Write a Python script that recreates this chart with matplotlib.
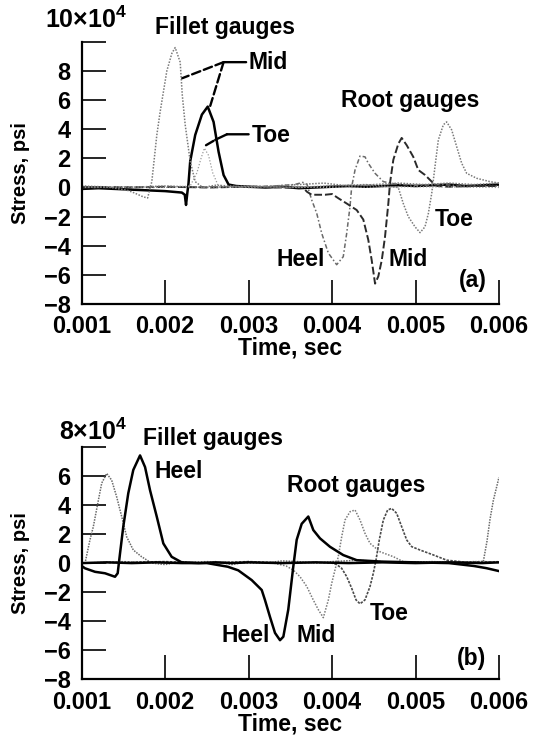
import numpy as np
import matplotlib
matplotlib.use('Agg')
import matplotlib.pyplot as plt

plt.rcParams['font.family'] = ['Liberation Sans', 'DejaVu Sans']
plt.rcParams['font.weight'] = 'bold'
plt.rcParams['mathtext.fontset'] = 'custom'
plt.rcParams['mathtext.rm'] = 'Liberation Sans:bold'
plt.rcParams['mathtext.it'] = 'Liberation Sans:bold'
plt.rcParams['mathtext.bf'] = 'Liberation Sans:bold'

# times in ms, stress in 10^4 psi

# ---- panel (a) ----
a_fmid_t = [1.00, 1.15, 1.30, 1.45, 1.55, 1.62, 1.68, 1.74, 1.79, 1.84, 1.90, 1.94, 2.02, 2.08, 2.12,
            2.18, 2.205, 2.24, 2.30, 2.36, 2.45, 2.60, 2.80, 3.00, 3.30, 3.60, 3.90, 4.20, 4.50, 4.80,
            5.10, 5.40, 5.70, 6.00]
a_fmid_v = [0.1, 0.0, 0.05, -0.1, -0.2, -0.35, -0.5, -0.65, -0.72, 0.4, 3.6, 5.2, 8.0, 9.2, 9.6,
            8.6, 6.35, 4.3, 1.8, 0.4, 0.0, 0.15, 0.1, 0.0, 0.1, 0.2, 0.3, 0.1, 0.2, 0.3,
            0.2, 0.3, 0.2, 0.3]

a_ftoe_t = [1.00, 1.50, 2.00, 2.30, 2.38, 2.43, 2.47, 2.52, 2.57, 2.63, 2.75, 3.00, 4.00, 5.00, 6.00]
a_ftoe_v = [0.0, 0.05, 0.0, 0.1, 1.0, 2.0, 2.7, 2.2, 1.0, 0.2, 0.0, 0.05, 0.0, 0.05, 0.0]

a_fdark_t = [1.00, 1.20, 1.40, 1.60, 1.80, 2.00, 2.10, 2.20, 2.235, 2.25, 2.265, 2.28, 2.30, 2.36,
             2.44, 2.51, 2.58, 2.64, 2.70, 2.76, 2.85, 3.00, 3.20, 3.40, 3.60, 3.80, 4.00, 4.20,
             4.40, 4.60, 4.80, 5.00, 5.20, 5.40, 5.60, 5.80, 6.00]
a_fdark_v = [-0.1, -0.05, -0.1, -0.15, -0.2, -0.25, -0.3, -0.35, -0.5, -1.2, -0.4, 0.3, 1.8, 3.6,
             5.0, 5.55, 4.5, 2.45, 0.85, 0.2, 0.1, 0.05, 0.0, 0.05, -0.05, 0.0, 0.05, 0.1,
             0.05, 0.1, 0.15, 0.1, 0.15, 0.2, 0.1, 0.15, 0.2]

a_rheel_t = [1.00, 1.40, 1.80, 2.20, 2.60, 3.00, 3.30, 3.55, 3.65, 3.70, 3.756, 3.816, 3.876, 3.955,
             4.055, 4.134, 4.175, 4.215, 4.235, 4.275, 4.335, 4.395, 4.434, 4.515, 4.614, 4.75,
             5.00, 5.30, 5.60, 6.00]
a_rheel_v = [0.0, 0.05, 0.0, 0.05, 0.0, 0.05, 0.1, 0.2, 0.35, 0.2, -0.86, -1.77, -3.15, -4.5,
             -5.3, -4.75, -3.15, -1.3, 0.05, 1.2, 2.16, 2.1, 1.66, 0.97, 0.4, 0.25,
             0.15, 0.2, 0.1, 0.1]

a_rmid_t = [1.00, 1.50, 2.00, 2.50, 3.00, 3.40, 3.65, 3.70, 3.756, 3.915, 4.00, 4.075, 4.175, 4.295,
            4.374, 4.434, 4.475, 4.515, 4.554, 4.595, 4.634, 4.674, 4.694, 4.734, 4.794, 4.834,
            4.894, 4.973, 5.033, 5.113, 5.194, 5.254, 5.40, 5.70, 6.00]
a_rmid_v = [0.0, 0.0, 0.05, 0.0, 0.05, 0.0, 0.0, -0.3, -0.5, -0.5, -0.45, -0.74, -1.1, -1.55,
            -2.2, -3.6, -5.0, -6.6, -6.1, -5.0, -3.4, -1.1, 0.3, 1.9, 3.0, 3.4,
            2.9, 2.1, 1.2, 0.86, 0.4, 0.1, 0.05, 0.1, 0.1]

a_rtoe_t = [1.00, 1.50, 2.00, 2.50, 3.00, 3.50, 4.00, 4.40, 4.60, 4.793, 4.853, 4.913, 4.994, 5.054,
            5.113, 5.153, 5.194, 5.233, 5.273, 5.333, 5.373, 5.433, 5.493, 5.553, 5.613, 5.733,
            5.892, 6.00]
a_rtoe_v = [0.1, 0.0, 0.1, 0.0, 0.1, 0.0, 0.1, 0.2, 0.1, 0.0, -1.1, -2.0, -2.7, -3.1,
            -2.7, -1.8, -0.4, 1.43, 3.26, 4.3, 4.5, 3.95, 2.8, 1.66, 0.97, 0.63,
            0.4, 0.3]

# ---- panel (b) ----
b_fgray_t = [1.00, 1.04, 1.099, 1.139, 1.199, 1.24, 1.30, 1.359, 1.419, 1.479, 1.539, 1.618, 1.719,
             1.839, 2.00, 2.20, 2.40, 2.60, 2.80, 3.00, 3.20, 3.40, 3.60, 3.80, 4.00, 4.30, 4.60,
             4.90, 5.20, 5.50, 5.70, 5.812, 5.856, 5.892, 5.932, 6.00]
b_fgray_v = [0.0, 0.0, 1.6, 2.5, 4.3, 5.5, 6.16, 5.7, 4.55, 3.2, 1.8, 0.9, 0.43,
             0.0, -0.1, 0.1, 0.0, 0.1, -0.1, 0.1, 0.0, 0.15, 0.1, 0.0, 0.1, 0.2, 0.1,
             0.05, 0.1, 0.05, 0.1, 0.1, 1.5, 3.0, 4.3, 5.9]

b_fheel_t = [1.00, 1.04, 1.16, 1.279, 1.399, 1.431, 1.459, 1.498, 1.558, 1.618, 1.699, 1.759, 1.819,
             1.899, 1.978, 2.078, 2.198, 2.40, 2.60, 2.80, 3.00, 3.40, 3.80, 4.20, 4.60, 5.00,
             5.40, 5.80, 6.00]
b_fheel_v = [-0.2, -0.36, -0.6, -0.7, -0.94, -0.7, 0.66, 2.5, 4.8, 6.4, 7.4, 6.6, 5.0,
             3.2, 1.35, 0.43, 0.05, 0.0, 0.05, 0.0, 0.05, 0.0, 0.05, 0.0, 0.05, 0.0,
             0.05, 0.0, 0.05]

b_rheel_t = [1.00, 1.30, 1.60, 1.90, 2.20, 2.50, 2.60, 2.75, 2.876, 3.037, 3.157, 3.196, 3.256,
             3.316, 3.376, 3.416, 3.475, 3.535, 3.576, 3.636, 3.715, 3.775, 3.855, 3.975, 4.134,
             4.295, 4.60, 5.00, 5.40, 5.70, 5.85, 6.00]
b_rheel_v = [0.0, 0.05, 0.0, 0.05, 0.0, 0.0, -0.1, -0.25, -0.5, -1.17, -1.85, -2.54, -3.7,
             -4.8, -5.3, -5.06, -3.2, -0.25, 1.6, 2.7, 3.2, 2.27, 1.7, 1.12, 0.55,
             0.2, 0.1, 0.05, 0.0, -0.2, -0.35, -0.55]

b_rmid_t = [1.00, 1.50, 2.00, 2.50, 3.00, 3.30, 3.45, 3.535, 3.616, 3.696, 3.775, 3.835, 3.895,
            3.955, 3.995, 4.035, 4.074, 4.115, 4.155, 4.215, 4.275, 4.335, 4.394, 4.454, 4.574,
            4.734, 4.853, 5.10, 5.40, 5.70, 6.00]
b_rmid_v = [0.0, 0.1, 0.0, 0.1, 0.0, 0.0, -0.2, -0.48, -0.94, -1.6, -2.54, -3.2, -3.75,
            -2.54, -1.4, -0.47, 0.44, 1.8, 2.96, 3.53, 3.65, 2.96, 2.05, 1.36, 0.78,
            0.44, 0.1, 0.05, 0.1, 0.05, 0.1]

b_rtoe_t = [1.00, 1.50, 2.00, 2.50, 3.00, 3.50, 3.80, 4.00, 4.055, 4.115, 4.175, 4.235, 4.287,
            4.335, 4.394, 4.454, 4.494, 4.526, 4.566, 4.614, 4.666, 4.714, 4.774, 4.834, 4.894,
            4.954, 5.053, 5.213, 5.373, 5.613, 5.80, 6.00]
b_rtoe_v = [0.0, 0.05, 0.1, 0.0, 0.1, 0.0, 0.05, 0.0, -0.1, -0.36, -0.93, -1.73, -2.53,
            -2.8, -2.53, -1.62, -0.7, 0.2, 1.6, 2.96, 3.65, 3.76, 3.42, 2.5, 1.59,
            1.13, 0.9, 0.56, 0.2, 0.05, 0.1, 0.05]

xticks = [0.001, 0.002, 0.003, 0.004, 0.005, 0.006]

FS = 16.5
gray_dot = dict(color='#7a7a7a', lw=1.1, ls=(0, (1, 1)))
dark_solid = dict(color='black', lw=1.8, ls='-')


def ms(t):
    return np.array(t) * 1e-3


def style_axes(ax, ymin, ymax, exp_label, exp_xy, panel, xlabel_y):
    ax.set_xlim(0.001, 0.006)
    ax.set_ylim(ymin, ymax)
    for s in ['top', 'right']:
        ax.spines[s].set_visible(False)
    for s in ['left', 'bottom']:
        ax.spines[s].set_linewidth(1.6)
    ax.set_xticks(xticks)
    ax.set_xticklabels([f'{x:.3f}' for x in xticks])
    yt = list(range(ymin, ymax + 1, 2))
    ax.set_yticks(yt)
    ax.set_yticklabels(['' if y == ymax else str(y).replace('-', '\u2212') for y in yt])
    ax.tick_params(axis='x', direction='in', length=17, width=1.2, pad=8, labelsize=17)
    ax.tick_params(axis='y', direction='in', length=17, width=1.2, pad=8, labelsize=17)
    ax.set_ylabel('Stress, psi', fontsize=14.5, fontweight='bold')
    ax.yaxis.set_label_coords(-0.123, 0.5)
    ax.set_xlabel('Time, sec', fontsize=16.5, fontweight='bold')
    ax.xaxis.set_label_coords(0.5, xlabel_y)
    ax.text(exp_xy[0], exp_xy[1], exp_label, transform=ax.transAxes, ha='right', va='center',
            fontsize=18)
    ax.text(0.97, panel[1], panel[0], transform=ax.transAxes, ha='right', va='center', fontsize=FS)


def leader(ax, p0, p1, ls='-'):
    ax.annotate('', xy=(p1[0] * 1e-3, p1[1]), xytext=(p0[0] * 1e-3, p0[1]),
                arrowprops=dict(arrowstyle='-', ls=ls, lw=1.7, color='black',
                                shrinkA=0, shrinkB=0))


fig = plt.figure(figsize=(5.33, 7.43), dpi=100)

# ---------- (a) ----------
ax1 = fig.add_axes([0.1533, 0.5908, 0.7829, 0.3530])
ax1.plot(ms(a_fdark_t), a_fdark_v, **dark_solid)
ax1.plot(ms(a_rheel_t), a_rheel_v, color='#6a6a6a', lw=1.1, ls=(0, (3, 1.5, 1, 1.5)))
ax1.plot(ms(a_rmid_t), a_rmid_v, color='#2a2a2a', lw=1.4, ls=(0, (4, 1.5)))
ax1.plot(ms(a_rtoe_t), a_rtoe_v, **gray_dot)
ax1.plot(ms(a_ftoe_t), a_ftoe_v, color='#9a9a9a', lw=0.9, ls=(0, (1, 1.5)))
ax1.plot(ms(a_fmid_t), a_fmid_v, **gray_dot)
style_axes(ax1, -8, 10, r'$10{\times}10^4$', (0.1086, 1.083), ('(a)', 0.089), -0.125)

ax1.text(0.176, 1.056, 'Fillet gauges', transform=ax1.transAxes, fontsize=FS, va='center')
ax1.text(4.107e-3, 5.95, 'Root gauges', fontsize=FS, va='center')
ax1.text(3.00e-3, 8.55, 'Mid', fontsize=FS, va='center')
ax1.text(3.04e-3, 3.55, 'Toe', fontsize=FS, va='center')
ax1.text(3.336e-3, -4.95, 'Heel', fontsize=FS, va='center')
ax1.text(4.674e-3, -4.95, 'Mid', fontsize=FS, va='center')
ax1.text(5.233e-3, -2.2, 'Toe', fontsize=FS, va='center')
# leaders for fillet labels
leader(ax1, (2.97, 8.6), (2.70, 8.6))
leader(ax1, (2.70, 8.6), (2.205, 7.5), ls='--')
leader(ax1, (2.70, 8.6), (2.54, 5.6), ls='--')
leader(ax1, (3.00, 3.65), (2.74, 3.65))
leader(ax1, (2.74, 3.65), (2.60, 3.27))
leader(ax1, (2.58, 3.2), (2.46, 2.8), ls='--')

# ---------- (b) ----------
ax2 = fig.add_axes([0.1533, 0.0855, 0.7829, 0.3133])
ax2.plot(ms(b_fgray_t), b_fgray_v, color='#6a6a6a', lw=1.1, ls=(0, (1, 0.8)))
ax2.plot(ms(b_rmid_t), b_rmid_v, **gray_dot)
ax2.plot(ms(b_rtoe_t), b_rtoe_v, color='#4a4a4a', lw=1.2, ls=(0, (1.5, 0.8)))
ax2.plot(ms(b_fheel_t), b_fheel_v, **dark_solid)
ax2.plot(ms(b_rheel_t), b_rheel_v, **dark_solid)
style_axes(ax2, -8, 8, r'$8{\times}10^4$', (0.108, 1.064), ('(b)', 0.092), -0.14)

ax2.text(0.148, 1.037, 'Fillet gauges', transform=ax2.transAxes, fontsize=FS, va='center')
ax2.text(1.878e-3, 6.28, 'Heel', fontsize=FS, va='center')
ax2.text(3.456e-3, 5.3, 'Root gauges', fontsize=FS, va='center')
ax2.text(2.67e-3, -4.95, 'Heel', fontsize=FS, va='center')
ax2.text(3.576e-3, -4.95, 'Mid', fontsize=FS, va='center')
ax2.text(4.454e-3, -3.45, 'Toe', fontsize=FS, va='center')

fig.savefig('out.png', dpi=100)
